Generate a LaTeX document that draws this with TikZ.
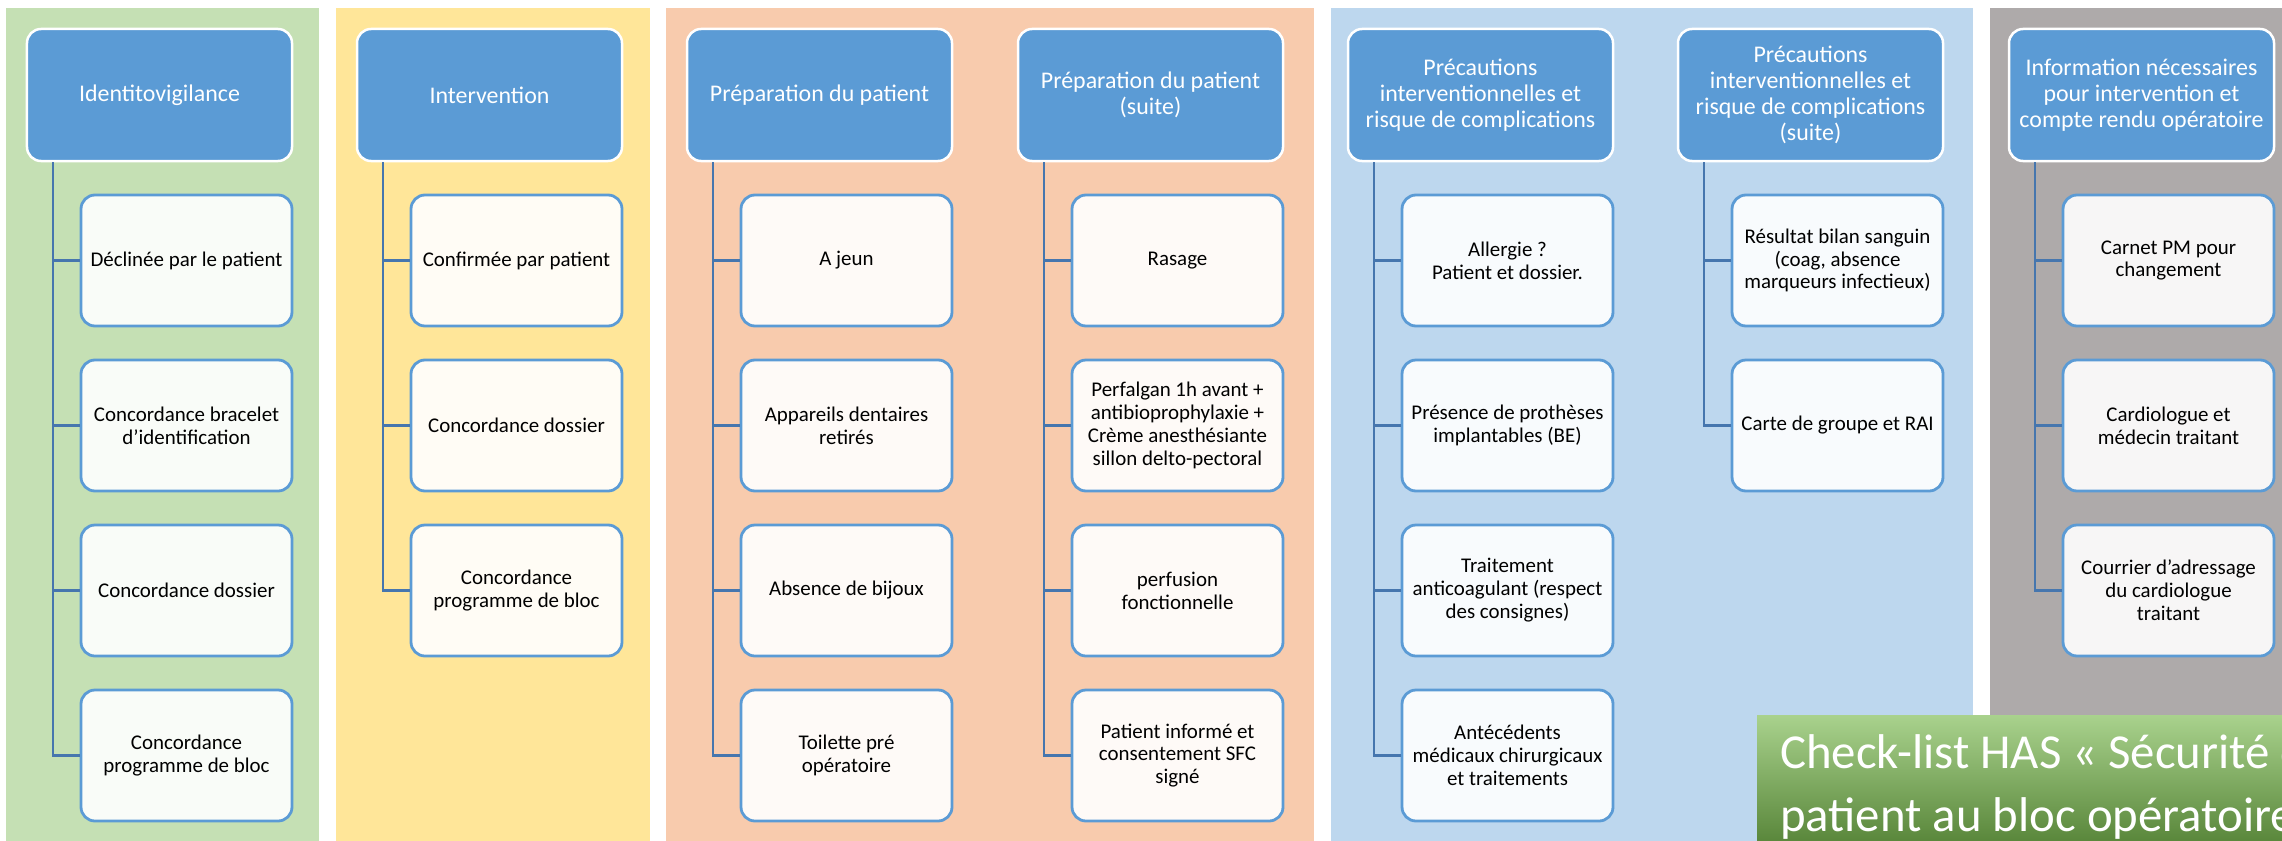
\documentclass[tikz,border=0pt]{standalone}
\usepackage{fontspec}
\setmainfont{Carlito}
\definecolor{pgreen}{HTML}{C5E0B4}
\definecolor{pyellow}{HTML}{FFE699}
\definecolor{ppeach}{HTML}{F8CBAD}
\definecolor{pblue}{HTML}{BDD7EE}
\definecolor{pgray}{HTML}{AEAAAA}
\definecolor{hdr}{HTML}{5B9BD5}
\definecolor{conn}{HTML}{4676AE}
\definecolor{clTop}{HTML}{A9D28D}
\definecolor{clMid}{HTML}{74AF4B}
\definecolor{clBot}{HTML}{4E7C2F}
\begin{document}
\begin{tikzpicture}[x=1bp,y=-1bp,
  hdrbox/.style={draw=white, line width=2.5bp, fill=hdr, rounded corners=14bp,
    minimum width=265bp, minimum height=132bp, inner sep=0pt, align=center,
    text=white, font=\fontsize{24}{26}\selectfont},
  childbox/.style={draw=hdr, line width=2.8bp, fill=white!90!#1, rounded corners=14bp,
    minimum width=211bp, minimum height=131bp, inner sep=0pt, align=center,
    text=black, font=\fontsize{21}{23}\selectfont},
  link/.style={draw=conn, line width=2.8bp},
  panel/.style={fill=#1, draw=none}]
\useasboundingbox (0,0) rectangle (2282,840);
\clip (0,0) rectangle (2282,840);
\fill[white] (0,0) rectangle (2282,840);
% panels
\fill[pgreen] (6,8) rectangle (319,850);
\fill[pyellow] (336,8) rectangle (650,850);
\fill[ppeach] (666,8) rectangle (1314,850);
\fill[pblue] (1331,8) rectangle (1973,850);
\fill[pgray] (1990,8) rectangle (2300,850);

% column 1
\node[hdrbox] (h1) at (159.5,95) {Identitovigilance};
\node[childbox=pgreen] (c11) at (186.5,260.5) {Déclinée par le patient};
\node[childbox=pgreen] (c12) at (186.5,425.5) {Concordance bracelet\\d’identification};
\node[childbox=pgreen] (c13) at (186.5,590.5) {Concordance dossier};
\node[childbox=pgreen] (c14) at (186.5,755.5) {Concordance\\programme de bloc};
\coordinate (v1) at ([xshift=-106.5bp]h1.south);
\draw[link] (v1) |- (c14.west);
\draw[link] (v1 |- c11.west) -- (c11.west);
\draw[link] (v1 |- c12.west) -- (c12.west);
\draw[link] (v1 |- c13.west) -- (c13.west);

% column 2
\node[hdrbox] (h2) at (489.5,95) {Intervention};
\node[childbox=pyellow] (c21) at (516.5,260.5) {Confirmée par patient};
\node[childbox=pyellow] (c22) at (516.5,425.5) {Concordance dossier};
\node[childbox=pyellow] (c23) at (516.5,590.5) {Concordance\\programme de bloc};
\coordinate (v2) at ([xshift=-106.5bp]h2.south);
\draw[link] (v2) |- (c23.west);
\draw[link] (v2 |- c21.west) -- (c21.west);
\draw[link] (v2 |- c22.west) -- (c22.west);

% column 3
\node[hdrbox] (h3) at (819.5,95) {Préparation du patient};
\node[childbox=ppeach] (c31) at (846.5,260.5) {A jeun};
\node[childbox=ppeach] (c32) at (846.5,425.5) {Appareils dentaires\\retirés};
\node[childbox=ppeach] (c33) at (846.5,590.5) {Absence de bijoux};
\node[childbox=ppeach] (c34) at (846.5,755.5) {Toilette pré\\opératoire};
\coordinate (v3) at ([xshift=-106.5bp]h3.south);
\draw[link] (v3) |- (c34.west);
\draw[link] (v3 |- c31.west) -- (c31.west);
\draw[link] (v3 |- c32.west) -- (c32.west);
\draw[link] (v3 |- c33.west) -- (c33.west);

% column 4
\node[hdrbox] (h4) at (1150.5,95) {Préparation du patient\\(suite)};
\node[childbox=ppeach] (c41) at (1177.5,260.5) {Rasage};
\node[childbox=ppeach] (c42) at (1177.5,425.5) {Perfalgan 1h avant +\\antibioprophylaxie +\\Crème anesthésiante\\sillon delto-pectoral};
\node[childbox=ppeach] (c43) at (1177.5,590.5) {perfusion\\fonctionnelle};
\node[childbox=ppeach] (c44) at (1177.5,755.5) {Patient informé et\\consentement SFC\\signé};
\coordinate (v4) at ([xshift=-106.5bp]h4.south);
\draw[link] (v4) |- (c44.west);
\draw[link] (v4 |- c41.west) -- (c41.west);
\draw[link] (v4 |- c42.west) -- (c42.west);
\draw[link] (v4 |- c43.west) -- (c43.west);

% column 5
\node[hdrbox] (h5) at (1480.5,95) {Précautions\\interventionnelles et\\risque de complications};
\node[childbox=pblue] (c51) at (1507.5,260.5) {Allergie ?\\Patient et dossier.};
\node[childbox=pblue] (c52) at (1507.5,425.5) {Présence de prothèses\\implantables (BE)};
\node[childbox=pblue] (c53) at (1507.5,590.5) {Traitement\\anticoagulant (respect\\des consignes)};
\node[childbox=pblue] (c54) at (1507.5,755.5) {Antécédents\\médicaux chirurgicaux\\et traitements};
\coordinate (v5) at ([xshift=-106.5bp]h5.south);
\draw[link] (v5) |- (c54.west);
\draw[link] (v5 |- c51.west) -- (c51.west);
\draw[link] (v5 |- c52.west) -- (c52.west);
\draw[link] (v5 |- c53.west) -- (c53.west);

% column 6
\node[hdrbox] (h6) at (1810.5,95) {Précautions\\interventionnelles et\\risque de complications\\(suite)};
\node[childbox=pblue] (c61) at (1837.5,260.5) {Résultat bilan sanguin\\(coag, absence\\marqueurs infectieux)};
\node[childbox=pblue] (c62) at (1837.5,425.5) {Carte de groupe et RAI};
\coordinate (v6) at ([xshift=-106.5bp]h6.south);
\draw[link] (v6) |- (c62.west);
\draw[link] (v6 |- c61.west) -- (c61.west);

% column 7
\node[hdrbox] (h7) at (2141.5,95) {Information nécessaires\\pour intervention et\\compte rendu opératoire};
\node[childbox=pgray] (c71) at (2168.5,260.5) {Carnet PM pour\\changement};
\node[childbox=pgray] (c72) at (2168.5,425.5) {Cardiologue et\\médecin traitant};
\node[childbox=pgray] (c73) at (2168.5,590.5) {Courrier d’adressage\\du cardiologue\\traitant};
\coordinate (v7) at ([xshift=-106.5bp]h7.south);
\draw[link] (v7) |- (c73.west);
\draw[link] (v7 |- c71.west) -- (c71.west);
\draw[link] (v7 |- c72.west) -- (c72.west);

% check-list banner
\shade[top color=clTop, middle color=clMid, bottom color=clBot] (1757,715) rectangle (2320,860);
\node[anchor=north west, inner sep=0pt, align=left, text=white,
  font=\fontsize{49}{64}\selectfont] (cl) at (1780,734)
  {Check-list HAS « Sécurité du\\patient au bloc opératoire »};
\end{tikzpicture}
\end{document}
